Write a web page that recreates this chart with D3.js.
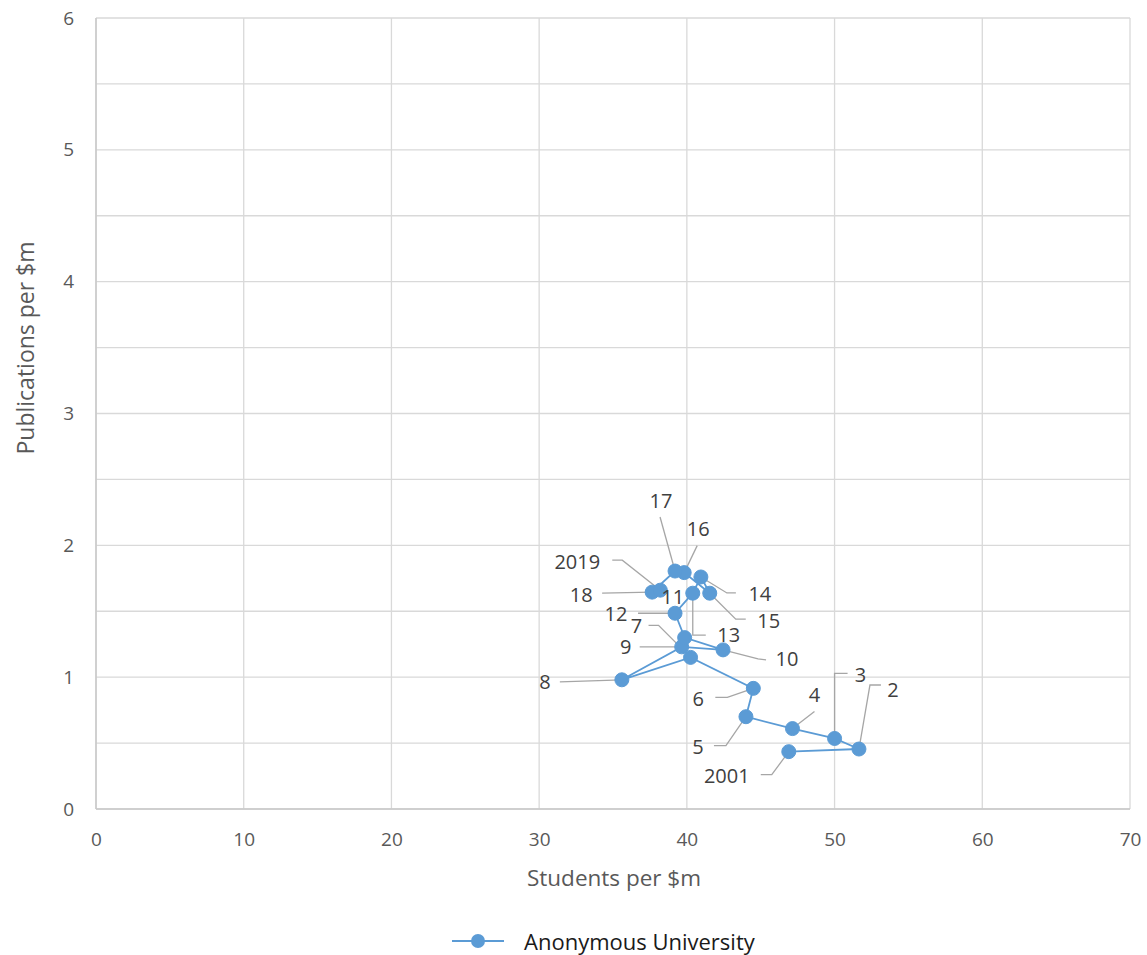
<!DOCTYPE html>
<html>
<head>
<meta charset="utf-8">
<script src="https://cdn.jsdelivr.net/npm/d3@7"></script>
<style>
  html, body { margin: 0; padding: 0; background: #fff; }
  svg { display: block; }
  text { font-family: "Open Sans", "Liberation Sans", sans-serif; }
</style>
</head>
<body>
<svg id="chart" width="1147" height="955"></svg>
<script>
// ---- Data ----
const pointLabels = ["2001","2","3","4","5","6","7","8","9","10","11","12","13","14","15","16","17","18","2019"];
const studentsPerM = [46.9, 51.65, 50.0, 47.15, 44.0, 44.5, 40.25, 35.6, 39.65, 42.45, 39.85, 39.2, 40.4, 40.95, 41.55, 39.82, 39.2, 37.65, 38.2];
const publicationsPerM = [0.435, 0.455, 0.535, 0.61, 0.70, 0.915, 1.15, 0.98, 1.23, 1.207, 1.30, 1.485, 1.637, 1.76, 1.637, 1.793, 1.805, 1.645, 1.66];
const xTicks = [0, 10, 20, 30, 40, 50, 60, 70];
const yTicks = [0, 1, 2, 3, 4, 5, 6];
const yGrid = [0, 0.5, 1, 1.5, 2, 2.5, 3, 3.5, 4, 4.5, 5, 5.5, 6];
const seriesName = "Anonymous University";
const xTitle = "Students per $m";
const yTitle = "Publications per $m";

// ---- Layout: label placement (offset of label centre from point, px) and leader elbows ----
const labelLayout = {
  "2001": {t:[-62, 24], path:[[-17,23],[-28,23]]},
  "2":    {t:[34, -60], path:[[11,-64],[22,-64]]},
  "3":    {t:[26, -64], path:[[0,-65],[13,-65]]},
  "4":    {t:[22, -34], path:[[22,-17]]},
  "5":    {t:[-48, 30], path:[[-20,29],[-32,29]]},
  "6":    {t:[-55, 10], path:[[-26,9],[-38,9]]},
  "7":    {t:[-54, -32], path:[[-32,-32],[-42,-32]]},
  "8":    {t:[-77, 2], path:[[-62,2]]},
  "9":    {t:[-56, 0], path:[[-42,0]]},
  "10":   {t:[64, 9], path:[[35,9],[43,10]]},
  "11":   {t:[-12, -41], path:null},
  "12":   {t:[-59, 0], path:[[-37,0]]},
  "13":   {t:[36, 41], path:[[0,42],[13,42]]},
  "14":   {t:[59, 17], path:[[26,16],[35,16]]},
  "15":   {t:[59, 27], path:[[26,26],[36,26]]},
  "16":   {t:[14, -44], path:[[13,-27]]},
  "17":   {t:[-14, -71], path:[[-15,-54]]},
  "18":   {t:[-71, 2], path:[[-50,1]]},
  "2019": {t:[-83, -29], path:[[-38,-30],[-48,-30]]}
};

const svg = d3.select("#chart");
const plot = {left: 96, top: 18, right: 1130, bottom: 809};

const x = d3.scaleLinear().domain([0, 70]).range([plot.left, plot.right]);
const y = d3.scaleLinear().domain([0, 6]).range([plot.bottom, plot.top]);

const gridColor = "#d9d9d9";
const tickColor = "#595959";

// Horizontal gridlines
svg.append("g").selectAll("line").data(yGrid).join("line")
  .attr("x1", plot.left).attr("x2", plot.right)
  .attr("y1", d => y(d)).attr("y2", d => y(d))
  .attr("stroke", gridColor).attr("stroke-width", 1.3);

// Vertical gridlines
svg.append("g").selectAll("line").data(xTicks).join("line")
  .attr("x1", d => x(d)).attr("x2", d => x(d))
  .attr("y1", plot.top).attr("y2", plot.bottom)
  .attr("stroke", gridColor).attr("stroke-width", 1.3);

// Axis lines
svg.append("line").attr("x1", plot.left).attr("x2", plot.right)
  .attr("y1", plot.bottom).attr("y2", plot.bottom)
  .attr("stroke", "#c8c8c8").attr("stroke-width", 1.5);
svg.append("line").attr("x1", plot.left).attr("x2", plot.left)
  .attr("y1", plot.top).attr("y2", plot.bottom)
  .attr("stroke", "#c8c8c8").attr("stroke-width", 1.5);

// Axes (tick labels via d3 axis)
const xAxis = svg.append("g").attr("transform", `translate(0,${plot.bottom})`)
  .call(d3.axisBottom(x).tickValues(xTicks).tickSize(0).tickPadding(24).tickFormat(d3.format("d")));
xAxis.select(".domain").remove();
xAxis.selectAll("text").attr("fill", tickColor).style("font-size", "19px")
  .style("font-family", "'Open Sans', sans-serif");

const yAxis = svg.append("g").attr("transform", `translate(${plot.left},0)`)
  .call(d3.axisLeft(y).tickValues(yTicks).tickSize(0).tickPadding(22).tickFormat(d3.format("d")));
yAxis.select(".domain").remove();
yAxis.selectAll("text").attr("fill", tickColor).style("font-size", "19px")
  .style("font-family", "'Open Sans', sans-serif");

// Axis titles
svg.append("text").attr("x", 614).attr("y", 877).attr("text-anchor", "middle")
  .attr("dominant-baseline", "central")
  .attr("fill", tickColor).style("font-size", "22.5px").text(xTitle);
svg.append("text").attr("transform", "translate(25,348) rotate(-90)").attr("text-anchor", "middle")
  .attr("dominant-baseline", "central")
  .attr("fill", tickColor).style("font-size", "23px").text(yTitle);

// Data
const data = pointLabels.map((l, i) => ({label: l, x: studentsPerM[i], y: publicationsPerM[i]}));
const blue = "#5b9bd5";

// Leader lines
const leaderG = svg.append("g");
data.forEach(d => {
  const L = labelLayout[d.label];
  if (!L || !L.path) return;
  const px = x(d.x), py = y(d.y);
  const pts = [[px, py]].concat(L.path.map(p => [px + p[0], py + p[1]]));
  leaderG.append("path")
    .attr("d", d3.line()(pts))
    .attr("fill", "none").attr("stroke", "#a6a6a6").attr("stroke-width", 1.3);
});

// Series line
svg.append("path").datum(data)
  .attr("d", d3.line().x(d => x(d.x)).y(d => y(d.y)))
  .attr("fill", "none").attr("stroke", blue).attr("stroke-width", 1.8);

// Markers
svg.append("g").selectAll("circle").data(data).join("circle")
  .attr("cx", d => x(d.x)).attr("cy", d => y(d.y)).attr("r", 7)
  .attr("fill", blue).attr("stroke", blue).attr("stroke-width", 1);

// Point labels
svg.append("g").selectAll("text").data(data).join("text")
  .attr("x", d => x(d.x) + labelLayout[d.label].t[0])
  .attr("y", d => y(d.y) + labelLayout[d.label].t[1])
  .attr("text-anchor", "middle")
  .attr("dominant-baseline", "central")
  .attr("fill", "#404040").style("font-size", "20px")
  .text(d => d.label);

// Legend
const lg = svg.append("g");
lg.append("line").attr("x1", 452).attr("x2", 504).attr("y1", 941).attr("y2", 941)
  .attr("stroke", blue).attr("stroke-width", 1.8);
lg.append("circle").attr("cx", 478).attr("cy", 941).attr("r", 7).attr("fill", blue);
lg.append("text").attr("x", 524).attr("y", 941).attr("dominant-baseline", "central")
  .attr("fill", "#1a1a1a").style("font-size", "22px").text(seriesName);
</script>
</body>
</html>
